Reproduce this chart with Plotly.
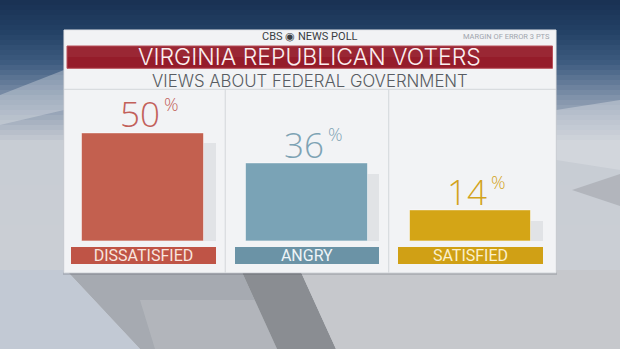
import plotly.graph_objects as go
import numpy as np

# ---------------- data ----------------
categories = ["DISSATISFIED", "ANGRY", "SATISFIED"]
values = [50, 36, 14]
bar_colors = ["#c3604f", "#7aa3b6", "#d4a516"]
strip_colors = ["#bf5446", "#6b93a6", "#d0a015"]
strip_text_colors = ["#f8e4df", "#eef4f7", "#fbf0cc"]
value_text_colors = ["#c2605a", "#7ea3b4", "#d2a31c"]
title = "VIRGINIA REPUBLICAN VOTERS"
subtitle = "VIEWS ABOUT FEDERAL GOVERNMENT"
brand = "CBS \u25c9 NEWS POLL"
margin_note = "MARGIN OF ERROR 3 PTS"

W, H = 620, 349
FONT = "Roboto"
LIGHT = "Open Sans"
HEAD = "Inter"


def px(x):
    return x / W


def py(y):
    return 1 - y / H


xs = list(range(len(categories)))

fig = go.Figure()

# bar shadows
fig.add_trace(go.Bar(
    x=xs, y=[v - 5 for v in values], width=0.746, offset=-0.373 + 0.07,
    marker=dict(color="rgba(110,115,125,0.12)", line=dict(width=0)),
    hoverinfo="skip", showlegend=False, xaxis="x", yaxis="y"))
# main bars
fig.add_trace(go.Bar(
    x=xs, y=values, width=0.746,
    marker=dict(color=bar_colors, line=dict(color="rgba(255,255,255,0.5)", width=1)),
    hoverinfo="skip", showlegend=False, xaxis="x", yaxis="y"))
# category strips
fig.add_trace(go.Bar(
    x=xs, y=[1] * len(categories), width=0.884, text=categories,
    textposition="inside", insidetextanchor="middle", constraintext="none", textangle=0,
    textfont=dict(family=FONT, size=16, color=strip_text_colors),
    marker=dict(color=strip_colors, line=dict(width=0)),
    hoverinfo="skip", showlegend=False, xaxis="x", yaxis="y2"))

annotations = []
for i, (v, c) in enumerate(zip(values, value_text_colors)):
    annotations.append(dict(x=i, y=v, xref="x", yref="y", text=str(v), showarrow=False,
                            xanchor="center", yanchor="bottom", xshift=-3, yshift=-5.3, borderpad=0,
                            font=dict(family=LIGHT, size=35, color=c, weight=300)))
    annotations.append(dict(x=i, y=v, xref="x", yref="y", text="%", showarrow=False,
                            xanchor="left", yanchor="bottom", xshift=20, yshift=16.2, borderpad=0,
                            font=dict(family=LIGHT, size=18, color=c, weight=300)))

annotations += [
    dict(x=px(310), y=py(36.5), xref="paper", yref="paper", text=brand, showarrow=False,
         xanchor="center", yanchor="middle", font=dict(family=FONT, size=11, color="#3a3d42")),
    dict(x=px(552), y=py(36.5), xref="paper", yref="paper", text=margin_note, showarrow=False,
         xanchor="right", yanchor="middle", font=dict(family=FONT, size=7.5, color="#a0a5ad")),
    dict(x=px(309.5), y=py(57), xref="paper", yref="paper", text=title, showarrow=False,
         xanchor="center", yanchor="middle", font=dict(family=HEAD, size=23, color="#fbeff0", weight=300)),
    dict(x=px(309.5), y=py(80.6), xref="paper", yref="paper", text=subtitle, showarrow=False,
         xanchor="center", yanchor="middle", borderpad=0,
         font=dict(family=HEAD, size=16.8, color="#585c62", weight=300)),
]

shapes = []
# background vertical gradient
stops_y = [0, 30, 60, 95, 140, 349]
stops_c = [(26, 50, 84), (36, 66, 102), (62, 92, 128), (128, 146, 170), (200, 205, 212), (205, 208, 213)]
ys = np.arange(0, H + 5, 5)
for y0 in ys:
    y1 = y0 + 5
    r = np.interp(y0, stops_y, [c[0] for c in stops_c])
    g = np.interp(y0, stops_y, [c[1] for c in stops_c])
    b = np.interp(y0, stops_y, [c[2] for c in stops_c])
    shapes.append(dict(type="rect", xref="paper", yref="paper", x0=0, x1=1,
                       y0=py(min(y1 + 1, H)), y1=py(y0), fillcolor=f"rgb({int(r)},{int(g)},{int(b)})",
                       line=dict(width=0), layer="below"))


def path(points):
    s = "M " + " L ".join(f"{px(x):.4f},{py(y):.4f}" for x, y in points) + " Z"
    return s


# background folds
shapes += [
    dict(type="path", xref="paper", yref="paper", path=path([(0, 95), (64, 70), (64, 110), (0, 125)]),
         fillcolor="rgba(230,232,236,0.35)", line=dict(width=0), layer="below"),
    dict(type="path", xref="paper", yref="paper", path=path([(556, 110), (620, 100), (620, 170), (556, 160)]),
         fillcolor="rgba(225,228,232,0.4)", line=dict(width=0), layer="below"),
    dict(type="path", xref="paper", yref="paper", path=path([(620, 174), (572, 190), (620, 206)]),
         fillcolor="rgba(150,154,160,0.45)", line=dict(width=0), layer="below"),
    dict(type="path", xref="paper", yref="paper", path=path([(66, 270), (241, 270), (277, 349), (140, 349)]),
         fillcolor="#a6aab1", line=dict(width=0), layer="below"),
    dict(type="path", xref="paper", yref="paper", path=path([(140, 300), (260, 300), (277, 349), (155, 349)]),
         fillcolor="rgba(200,202,206,0.35)", line=dict(width=0), layer="below"),
    dict(type="path", xref="paper", yref="paper", path=path([(241, 270), (300, 270), (336, 349), (277, 349)]),
         fillcolor="#8a8d92", line=dict(width=0), layer="below"),
    dict(type="path", xref="paper", yref="paper", path=path([(300, 270), (620, 270), (620, 349), (336, 349)]),
         fillcolor="#c6c8cc", line=dict(width=0), layer="below"),
    dict(type="path", xref="paper", yref="paper", path=path([(0, 270), (66, 270), (140, 349), (0, 349)]),
         fillcolor="#c2c9d4", line=dict(width=0), layer="below"),
    # panel shadow
    dict(type="rect", xref="paper", yref="paper", x0=px(63), x1=px(557), y0=py(275), y1=py(31),
         fillcolor="rgba(60,65,75,0.18)", line=dict(width=0), layer="below"),
    # panel
    dict(type="rect", xref="paper", yref="paper", x0=px(64), x1=px(556), y0=py(272.7), y1=py(30),
         fillcolor="#f2f3f5", line=dict(color="#e2e4e8", width=1), layer="below"),
    # title bar
    dict(type="rect", xref="paper", yref="paper", x0=px(67), x1=px(552.5), y0=py(68.3), y1=py(46),
         fillcolor="#951c2a", line=dict(color="#b8505a", width=1), layer="below"),
    dict(type="rect", xref="paper", yref="paper", x0=px(67.5), x1=px(552), y0=py(57), y1=py(46.5),
         fillcolor="rgba(255,255,255,0.05)", line=dict(width=0), layer="below"),
    # separators
    dict(type="line", xref="paper", yref="paper", x0=px(64), x1=px(556), y0=py(89.3), y1=py(89.3),
         line=dict(color="#d3d6da", width=1), layer="below"),
    dict(type="line", xref="x", yref="paper", x0=0.5, x1=0.5, y0=py(272.7), y1=py(89.3),
         line=dict(color="#d3d6da", width=1), layer="below"),
    dict(type="line", xref="x", yref="paper", x0=1.5, x1=1.5, y0=py(272.7), y1=py(89.3),
         line=dict(color="#d3d6da", width=1), layer="below"),
]

axis_off = dict(showgrid=False, zeroline=False, showticklabels=False, showline=False,
                ticks="", fixedrange=True)

fig.update_layout(
    width=W, height=H,
    margin=dict(l=0, r=0, t=0, b=0, pad=0),
    paper_bgcolor="#cdd0d5", plot_bgcolor="rgba(0,0,0,0)",
    barmode="overlay", bargap=0,
    showlegend=False,
    xaxis=dict(domain=[px(64), px(556)], range=[-0.486, 2.523], **axis_off),
    yaxis=dict(domain=[py(241), py(111.4)], range=[0, 60], **axis_off),
    yaxis2=dict(domain=[py(264), py(246.7)], range=[0, 1], anchor="x", **axis_off),
    shapes=shapes,
    annotations=annotations,
    font=dict(family=FONT),
)

fig.write_html("out.html")
